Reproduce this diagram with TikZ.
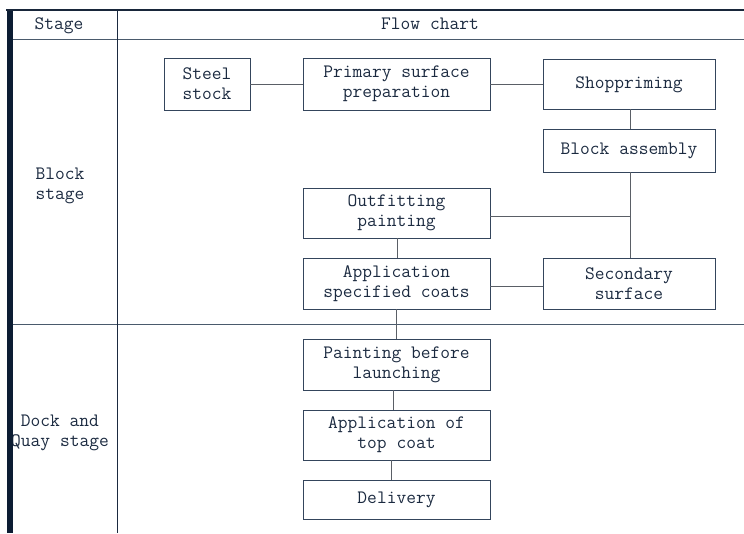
\documentclass[tikz,border=0pt]{standalone}
\usetikzlibrary{calc}
\definecolor{ink}{HTML}{1B2A40}
\definecolor{boxline}{HTML}{34455C}
\definecolor{conn}{HTML}{5A5F66}
\definecolor{rule}{HTML}{4A5A6C}
\definecolor{bar}{HTML}{0C1D33}
\begin{document}
\begin{tikzpicture}[x=0.75pt,y=-0.75pt,
  txt/.style={font=\ttfamily\fontsize{14.2pt}{15.2pt}\selectfont, text=ink, align=center, inner sep=0pt},
  stepbox/.style={draw=boxline, line width=0.6pt, minimum width=#1*0.75pt, anchor=center, align=center, inner sep=0pt,
    font=\ttfamily\fontsize{14.2pt}{15.2pt}\selectfont, text=ink},
  oneline/.style={text height=0.62em, text depth=0pt},
  link/.style={draw=conn, line width=0.65pt},
  tabline/.style={draw=rule, line width=0.6pt}]
\useasboundingbox (0,0) rectangle (744,533);

% table frame
\draw[tabline] (13,39) -- (744,39);
\draw[tabline] (13,324) -- (744,324);
\draw[draw=ink, line width=0.7pt] (117.5,9) -- (117.5,533);

% stage labels and header
\node[txt, oneline] (hstage) at (59,25) {Stage};
\node[txt, oneline] (hflow) at (430,25) {Flow chart};
\node[txt] (sblock) at (60,186) {Block\\stage};
\node[txt] (sdock) at (60,433) {Dock and\\Quay stage};

% left bar and top rule drawn over the labels
\fill[bar] (7,9) rectangle (13.3,533);
\draw[draw=ink!90!black, line width=1.5pt] (6,9.5) -- (744,9.5);

% process boxes
\node[stepbox=86, minimum height=52*0.75pt] (steel) at (207,84) {Steel\\stock};
\node[stepbox=187, minimum height=52*0.75pt] (primary) at (396.5,84) {Primary surface\\preparation};
\node[stepbox=172, minimum height=50*0.75pt, oneline] (shop) at (629,84) {Shoppriming};
\node[stepbox=172, minimum height=43*0.75pt, oneline] (block) at (629,150.5) {Block assembly};
\node[stepbox=187, minimum height=50*0.75pt] (outfit) at (396.5,213) {Outfitting\\painting};
\node[stepbox=187, minimum height=51*0.75pt] (app) at (396.5,283.5) {Application\\specified coats};
\node[stepbox=172, minimum height=51*0.75pt] (second) at (629,283.5) {Secondary\\surface};
\node[stepbox=187, minimum height=51*0.75pt] (paint) at (396.5,364.5) {Painting before\\launching};
\node[stepbox=187, minimum height=50*0.75pt] (top) at (396.5,435) {Application of\\top coat};
\node[stepbox=187, minimum height=39*0.75pt, oneline] (deliv) at (396.5,499.5) {Delivery};

% connectors
\coordinate (jl) at (630,216);
\draw[link] (steel.east) -- (primary.west);
\draw[link] (primary.east) -- (shop.west);
\draw[link] ([xshift=0.75pt]shop.south) -- ([xshift=0.75pt]block.north);
\draw[link] ([xshift=0.75pt]block.south) -- ([xshift=0.75pt]second.north);
\draw[link] (outfit.east |- jl) -- (jl);
\draw[link] ([xshift=1pt]outfit.south) -- ([xshift=1pt]app.north);
\draw[link] ([yshift=-2.5pt]app.east) -- ([yshift=-2.5pt]second.west);
\draw[link] (app.south) -- (paint.north);
\draw[link] ([xshift=-2pt]paint.south) -- ([xshift=-2pt]top.north);
\draw[link] ([xshift=-4pt]top.south) -- ([xshift=-4pt]deliv.north);
\end{tikzpicture}
\end{document}
